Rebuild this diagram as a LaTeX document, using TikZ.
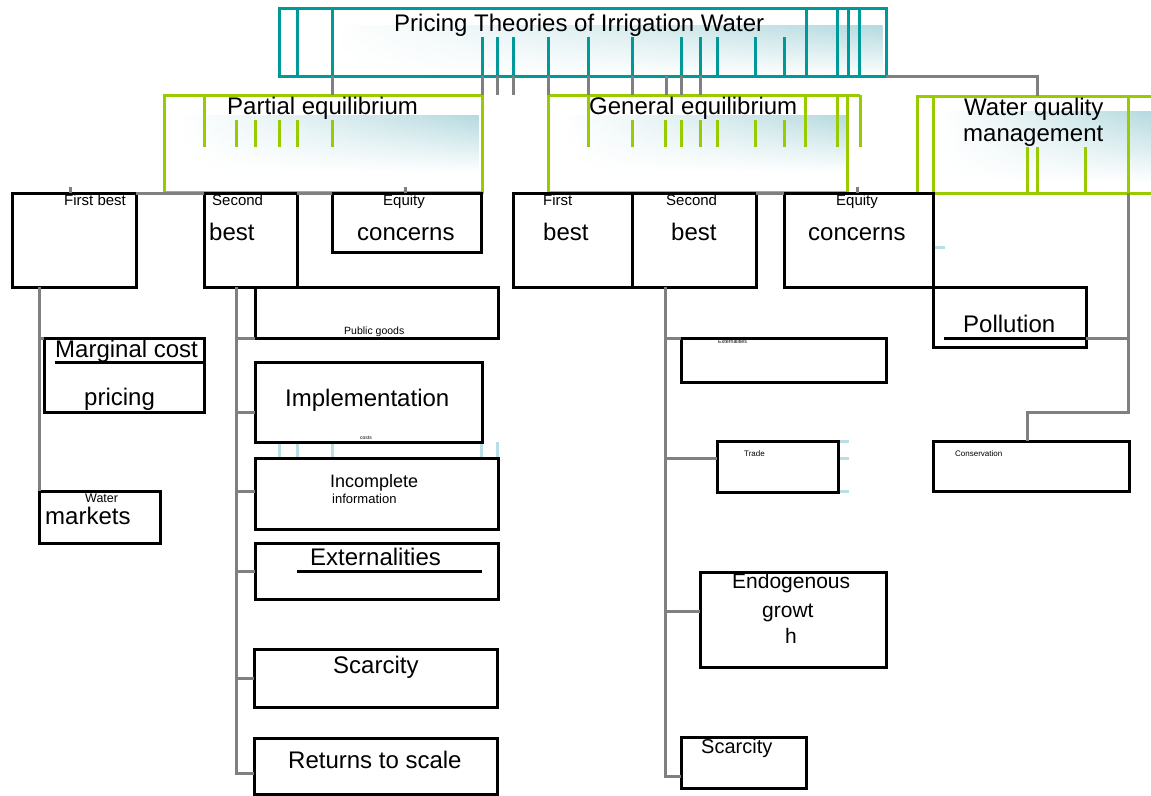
\documentclass[tikz,border=0pt]{standalone}
\usepackage{fontspec}
\setmainfont{Liberation Sans}
\usetikzlibrary{fit,fadings}

\definecolor{tealline}{HTML}{009999}
\definecolor{greenline}{HTML}{99CC00}
\definecolor{conngray}{HTML}{808080}
\definecolor{shadeteal}{HTML}{B5DADF}
\definecolor{tickteal}{HTML}{B9DEE3}

\tikzfading[name=fadedown, top color=transparent!0, bottom color=transparent!100]

\tikzset{
  box/.style={draw=black, line width=3pt, inner sep=0pt, outer sep=0pt},
  headbox/.style={draw=tealline, line width=3pt, inner sep=0pt, outer sep=0pt},
  groupbox/.style={draw=greenline, line width=3pt, inner sep=0pt, outer sep=0pt},
  conn/.style={draw=conngray, line width=3pt},
  txt/.style={font=\fontsize{#1}{#1}\selectfont, anchor=base west, inner sep=0pt},
  glow/.style={left color=white, right color=shadeteal, path fading=fadedown}
}

\begin{document}
\begin{tikzpicture}[x=1pt, y=-1pt]
  \useasboundingbox (0,0) rectangle (1151,795);

  % --------
  % Shading
  % --------
  \shade[glow] (334,26) rectangle (883,76);
  \shade[glow] (180,116) rectangle (479,172);
  \shade[glow] (563,116) rectangle (847,172);
  \shade[glow] (940,112) rectangle (1151,182);

  % --------
  % Headers
  % --------
  \node[headbox, fit={(279,8) (886,76)}] (title) {};
  \node[groupbox, fit={(164,95) (482,192)}] (pe) {};
  \node[groupbox, fit={(548,95) (847,192)}] (ge) {};
  \node[groupbox, fit={(917,96) (1170,193)}] (wq) {};

  % stray bars
  \foreach \x in {297,332,806,837,848,859}
    \draw[tealline, line width=3pt] (title.north -| \x,0) -- (title.south -| \x,0);
  \foreach \x in {482,497,513,548,588,632,681,700,717,755,784}
    \draw[tealline, line width=3pt] (\x,37) -- (title.south -| \x,0);
  \draw[greenline, line width=3pt] (pe.north -| 204,0) -- (204,147);
  \foreach \x in {236,255,279,297,332}
    \draw[greenline, line width=3pt] (\x,120) -- (\x,147);
  \foreach \x in {588,805,837,860}
    \draw[greenline, line width=3pt] (ge.north -| \x,0) -- (\x,147);
  \draw[greenline, line width=3pt] (ge.north east) -- (ge.north -| 860,0);
  \foreach \x in {632,665,681,700,717,755,784}
    \draw[greenline, line width=3pt] (\x,120) -- (\x,147);
  \foreach \x in {933,1128}
    \draw[greenline, line width=3pt] (wq.north -| \x,0) -- (wq.south -| \x,0);
  \foreach \x in {1027,1037,1085}
    \draw[greenline, line width=3pt] (\x,147) -- (wq.south -| \x,0);
  \foreach \x in {279,297,332,481,497}
    \draw[tickteal, line width=3pt] (\x,442) -- (\x,457);
  \foreach \y in {441,458,491}
    \draw[tickteal, line width=3pt] (838,\y) -- (849,\y);
  \draw[tickteal, line width=3pt] (935,247) -- (945,247);

  % --------
  % Boxes
  % --------
  \node[box, fit={(12,193) (136,287)}] (pe1) {};
  \node[box, fit={(204,193) (297,287)}] (pe2) {};
  \node[box, fit={(332,193) (481,252)}] (pe3) {};
  \node[box, fit={(513,193) (632,287)}] (ge1) {};
  \node[box, fit={(632,193) (756,287)}] (ge2) {};
  \node[box, fit={(784,193) (933,287)}] (ge3) {};

  \node[box, fit={(44,338) (204,412)}] (mc) {};
  \node[box, fit={(39,491) (160,543)}] (wm) {};

  \node[box, fit={(255,287) (498,338)}] (pg) {};
  \node[box, fit={(255,362) (482,442)}] (im) {};
  \node[box, fit={(255,458) (498,529)}] (ii) {};
  \node[box, fit={(255,543) (498,599)}] (ex) {};
  \node[box, fit={(254,649) (497,707)}] (sc) {};
  \node[box, fit={(254,738) (497,794)}] (rs) {};

  \node[box, fit={(681,338) (886,382)}] (gex) {};
  \node[box, fit={(717,441) (838,492)}] (tr) {};
  \node[box, fit={(700,572) (886,667)}] (eg) {};
  \node[box, fit={(681,737) (806,788)}] (gsc) {};

  \node[box, fit={(933,287) (1086,347)}] (po) {};
  \node[box, fit={(933,441) (1129,491)}] (co) {};

  % underlines
  \draw[line width=3pt] (55,362) -- (mc.east |- 0,362);
  \draw[line width=3pt] (297,571) -- (482,571);
  \draw[line width=3pt] (944,338) -- (po.east |- 0,338);

  % Draw line
  \foreach \x in {332,482,497,513,548,588,632,666,681,700}
    \draw[conn] (title.south -| \x,0) -- (pe.north -| \x,0);
  \draw[conn] (title.south east) -| (wq.north -| 1037,0);

  \draw[conn] (pe1.north east) -- (pe2.north west);
  \draw[conn] (pe2.north east) -- (pe3.north west);
  \draw[conn] (ge2.north east) -- (ge3.north west);
  \foreach \x in {70,405}
    \draw[conn] (pe1.north -| \x,0) -- ++(0,-6);
  \draw[conn] (ge3.north -| 857,0) -- ++(0,-6);

  \draw[conn] (pe1.south -| 39,0) -- (wm.north west);
  \draw[conn] (pe1.south -| 39,0) |- (mc.north west);

  \draw[conn] (pe2.south -| 236,0) |- (pg.south west);
  \draw[conn] (pe2.south -| 236,0) |- (im.west |- 0,412);
  \draw[conn] (pe2.south -| 236,0) |- (ii.west |- 0,491);
  \draw[conn] (pe2.south -| 236,0) |- (ex.west);
  \draw[conn] (pe2.south -| 236,0) |- (sc.west);
  \draw[conn] (pe2.south -| 236,0) |- (rs.west |- 0,773);

  \draw[conn] (ge2.south -| 665,0) |- (gex.north west);
  \draw[conn] (ge2.south -| 665,0) |- (tr.west |- 0,458);
  \draw[conn] (ge2.south -| 665,0) |- (eg.west |- 0,611);
  \draw[conn] (ge2.south -| 665,0) |- (gsc.west |- 0,776);

  \draw[conn] (wq.south -| 1128,0) |- (po.east |- 0,338);
  \draw[conn] (wq.south -| 1128,0) -- ++(0,219) -| (co.north -| 1027,0);

  % --------
  % Texts
  % --------
  \node[txt=24] at (394,31) (ttitle) {Pricing Theories of Irrigation Water};
  \node[txt=24] at (227,114) (tpe) {Partial equilibrium};
  \node[txt=24] at (589,114) (tge) {General equilibrium};
  \node[txt=24] at (964,115) (twqa) {Water quality};
  \node[txt=24] at (963,141) (twqb) {management};

  \node[txt=15] at (64,205) (tpe1) {First best};
  \node[txt=15] at (212,205) (tpe2a) {Second};
  \node[txt=24] at (209,240) (tpe2b) {best};
  \node[txt=15] at (383,205) (tpe3a) {Equity};
  \node[txt=24] at (357,240) (tpe3b) {concerns};
  \node[txt=15] at (543,205) (tge1a) {First};
  \node[txt=24] at (543,240) (tge1b) {best};
  \node[txt=15] at (666,205) (tge2a) {Second};
  \node[txt=24] at (671,240) (tge2b) {best};
  \node[txt=15] at (836,205) (tge3a) {Equity};
  \node[txt=24] at (808,240) (tge3b) {concerns};

  \node[txt=24] at (55,357) (tmca) {Marginal cost};
  \node[txt=24] at (84,405) (tmcb) {pricing};
  \node[txt=12.5] at (85,502) (twma) {Water};
  \node[txt=24] at (45,524) (twmb) {markets};

  \node[txt=10.5] at (344,334) (tpg) {Public goods};
  \node[txt=24] at (285,406) (tim) {Implementation};
  \node[txt=5] at (360,439) (tcosts) {costs};
  \node[txt=18] at (330,487) (tiia) {Incomplete};
  \node[txt=13] at (332,503) (tiib) {information};
  \node[txt=24] at (310,565) (tex) {Externalities};
  \node[txt=24] at (333,673) (tsc) {Scarcity};
  \node[txt=24] at (288,768) (trs) {Returns to scale};

  \node[txt=5.3] at (718,343) (tgex) {Externalities};
  \node[txt=8] at (744,456) (ttr) {Trade};
  \node[txt=21] at (732,588) (tega) {Endogenous};
  \node[txt=21] at (762,617) (tegb) {growt};
  \node[txt=21] at (785,643) (tegc) {h};
  \node[txt=20] at (701,753) (tgsc) {Scarcity};

  \node[txt=24] at (963,332) (tpo) {Pollution};
  \node[txt=8] at (955,456) (tco) {Conservation};
\end{tikzpicture}
\end{document}
